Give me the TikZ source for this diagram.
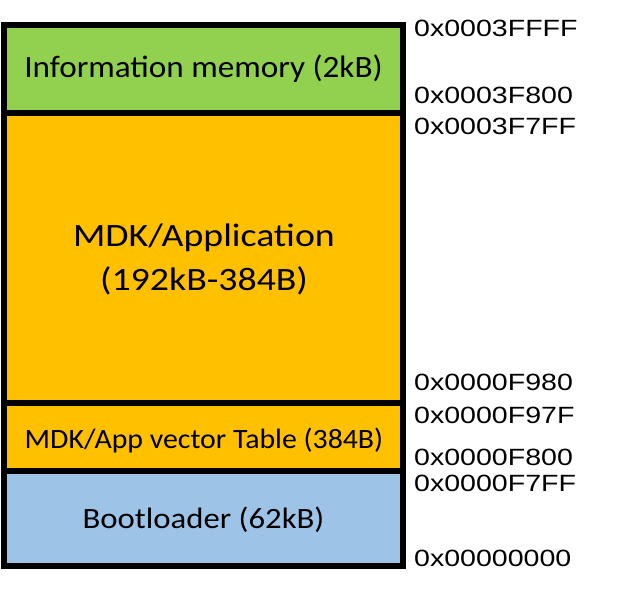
\documentclass[tikz,border=0pt]{standalone}
\usepackage{fontspec}
\setmainfont{Carlito}
\newfontfamily\addrfont{Liberation Sans}
\definecolor{infogreen}{HTML}{92D050}
\definecolor{apporange}{HTML}{FFC000}
\definecolor{bootblue}{HTML}{9DC3E6}
\newcommand{\wide}[2]{\scalebox{#1}[1]{#2}}
\begin{document}
\begin{tikzpicture}[x=1pt,y=-1pt,
  region/.style={draw=black,line width=6pt},
  boxtext/.style={anchor=base,inner sep=0pt},
  addr/.style={anchor=base west,inner sep=0pt,font=\addrfont\fontsize{23.5}{28}\selectfont}]
\useasboundingbox (0,0) rectangle (625,591);
\fill[infogreen] (4,25) rectangle (403,113);
\fill[apporange] (4,113) rectangle (403,403);
\fill[apporange] (4,403) rectangle (403,471);
\fill[bootblue] (4,471) rectangle (403,566);
\draw[region] (4,25) rectangle (403,566);
\draw[region] (4,113) -- (403,113);
\draw[region] (4,403) -- (403,403);
\draw[region] (4,471) -- (403,471);
\node[boxtext,font=\fontsize{31}{36}\selectfont] (info) at (203.5,78) {\wide{1.07}{Information memory (2kB)}};
\node[boxtext,font=\fontsize{32.6}{38}\selectfont] (app1) at (204,247) {\wide{1.16}{MDK/Application}};
\node[boxtext,font=\fontsize{32.6}{38}\selectfont] (app2) at (204,291) {\wide{1.16}{(192kB-384B)}};
\node[boxtext,font=\fontsize{28}{33}\selectfont] (vec) at (204,448) {\wide{1.065}{MDK/App vector Table (384B)}};
\node[boxtext,font=\fontsize{29.5}{34}\selectfont] (boot) at (203.5,528) {\wide{1.11}{Bootloader (62kB)}};
\node[addr] (a1) at (414,37) {\wide{1.215}{0x0003FFFF}};
\node[addr] (a2) at (414,104) {\wide{1.215}{0x0003F800}};
\node[addr] (a3) at (414,135) {\wide{1.215}{0x0003F7FF}};
\node[addr] (a4) at (414,391) {\wide{1.215}{0x0000F980}};
\node[addr] (a5) at (414,424) {\wide{1.215}{0x0000F97F}};
\node[addr] (a6) at (414,465) {\wide{1.215}{0x0000F800}};
\node[addr] (a7) at (414,491) {\wide{1.215}{0x0000F7FF}};
\node[addr] (a8) at (414,566) {\wide{1.215}{0x00000000}};
\end{tikzpicture}
\end{document}
